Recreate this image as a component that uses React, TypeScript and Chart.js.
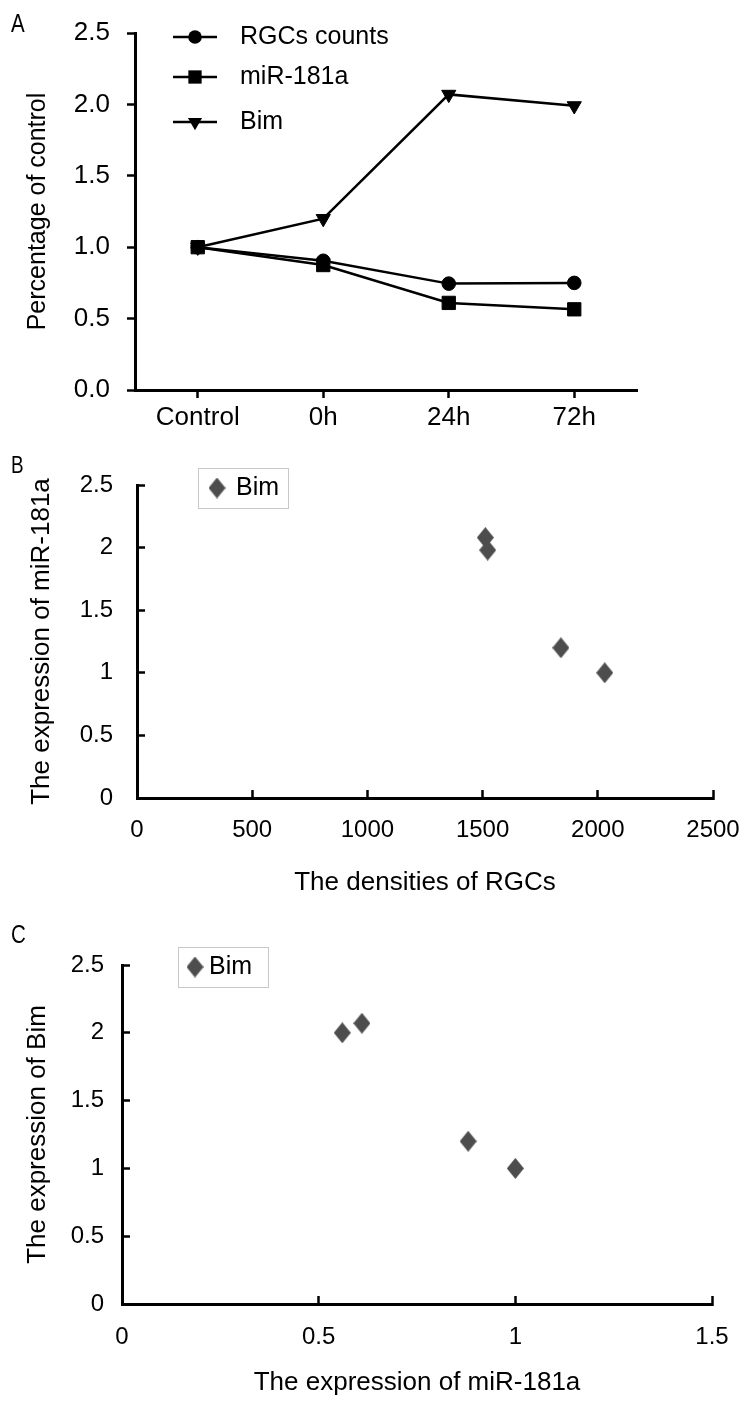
import React, { useEffect, useRef } from "react";
import { Chart, registerables } from "chart.js";

Chart.register(...registerables);

const FONT = "'Liberation Sans', Arial, sans-serif";

// ---------- Panel A data ----------
const timePoints = ["Control", "0h", "24h", "72h"];
const rgcCountsPct = [1.0, 0.905, 0.745, 0.75];
const mir181aPct = [1.0, 0.875, 0.61, 0.565];
const bimPct = [1.0, 1.2, 2.07, 1.99];
const seriesNamesA = ["RGCs counts", "miR-181a", "Bim"];
const yTitleA = "Percentage of control";

// ---------- Panel B data ----------
const rgcDensities = [2030, 1840, 1512, 1522];
const bimVsDensity = [1.0, 1.2, 2.08, 1.98];
const xTitleB = "The densities of RGCs";
const yTitleB = "The expression of miR-181a";

// ---------- Panel C data ----------
const mir181aExpr = [1.0, 0.88, 0.61, 0.56];
const bimVsMir = [1.0, 1.2, 2.07, 2.0];
const xTitleC = "The expression of miR-181a";
const yTitleC = "The expression of Bim";

const scatterName = "Bim";
const DIAMOND_COLOR = "#4d4d4d";

function makeDiamond(w: number, h: number, color: string) {
  const c = document.createElement("canvas");
  c.width = w;
  c.height = h;
  const g = c.getContext("2d")!;
  g.fillStyle = color;
  g.beginPath();
  g.moveTo(w / 2, 0);
  g.lineTo(w, h / 2);
  g.lineTo(w / 2, h);
  g.lineTo(0, h / 2);
  g.closePath();
  g.fill();
  return c;
}

function drawMarker(
  ctx: CanvasRenderingContext2D,
  style: any,
  x: number,
  y: number,
  r: number,
  rotation: number,
  color: string
) {
  ctx.fillStyle = color;
  if (typeof style !== "string") {
    ctx.drawImage(style, x - style.width / 2, y - style.height / 2);
    return;
  }
  ctx.beginPath();
  if (style === "circle") {
    ctx.arc(x, y, r, 0, Math.PI * 2);
  } else if (style === "rect") {
    const s = r * Math.SQRT1_2;
    ctx.rect(x - s, y - s, 2 * s, 2 * s);
  } else if (style === "triangle") {
    const base = (rotation * Math.PI) / 180;
    for (let k = 0; k < 3; k++) {
      const a = base + (k * 2 * Math.PI) / 3;
      const px = x + Math.sin(a) * r;
      const py = y - Math.cos(a) * r;
      if (k === 0) ctx.moveTo(px, py);
      else ctx.lineTo(px, py);
    }
    ctx.closePath();
  }
  ctx.fill();
}

const customLegend = {
  id: "customLegend",
  afterDraw(chart: any, _args: any, opts: any) {
    if (!opts || !opts.rows) return;
    const ctx = chart.ctx as CanvasRenderingContext2D;
    ctx.save();
    if (opts.box) {
      ctx.strokeStyle = opts.box.color;
      ctx.lineWidth = 1;
      ctx.strokeRect(opts.box.x + 0.5, opts.box.y + 0.5, opts.box.w, opts.box.h);
    }
    ctx.font = opts.font;
    ctx.textBaseline = "middle";
    ctx.textAlign = "left";
    chart.data.datasets.forEach((ds: any, i: number) => {
      const y = opts.rows[i];
      if (opts.lineLength) {
        ctx.strokeStyle = ds.borderColor;
        ctx.lineWidth = ds.borderWidth;
        ctx.beginPath();
        ctx.moveTo(opts.lineX, y);
        ctx.lineTo(opts.lineX + opts.lineLength, y);
        ctx.stroke();
      }
      drawMarker(ctx, ds.pointStyle, opts.markerX, y, ds.pointRadius, ds.pointRotation || 0, ds.pointBackgroundColor);
      ctx.fillStyle = "#000";
      ctx.fillText(ds.label, opts.textX, y);
    });
    ctx.restore();
  },
};

function gridOpts(tickLength: number) {
  return {
    display: true,
    drawOnChartArea: false,
    drawTicks: true,
    tickLength,
    color: "#000",
    tickColor: "#000",
    tickWidth: 2.5,
  };
}
const borderOpts = { display: true, color: "#000", width: 3 };
const fmt = (v: any) => String(Math.round(Number(v) * 10) / 10);

function configA(): any {
  const mk = (label: string, data: number[], pointStyle: string, radius: number, rotation = 0) => ({
    label,
    data,
    borderColor: "#000",
    backgroundColor: "#000",
    borderWidth: 2.5,
    pointStyle,
    pointRadius: radius,
    pointHoverRadius: radius,
    pointRotation: rotation,
    pointBackgroundColor: "#000",
    pointBorderColor: "#000",
    pointBorderWidth: 1,
    tension: 0,
  });
  return {
    type: "line",
    data: {
      labels: timePoints,
      datasets: [
        mk(seriesNamesA[0], rgcCountsPct, "circle", 6.8),
        mk(seriesNamesA[1], mir181aPct, "rect", 9.4),
        mk(seriesNamesA[2], bimPct, "triangle", 8.2, 180),
      ],
    },
    options: {
      responsive: false,
      animation: false,
      layout: { padding: { left: 0, right: 107, top: 33, bottom: 0 } },
      plugins: {
        legend: { display: false },
        tooltip: { enabled: false },
        customLegend: {
          rows: [37, 77, 122],
          lineX: 173,
          lineLength: 44,
          markerX: 195,
          textX: 240,
          font: `25px ${FONT}`,
        },
      },
      scales: {
        x: {
          type: "category",
          offset: true,
          grid: { ...gridOpts(8), offset: false },
          border: borderOpts,
          ticks: { color: "#000", font: { size: 26, family: FONT }, padding: 4, maxRotation: 0 },
          afterFit(s: any) {
            s.height = 70;
          },
        },
        y: {
          min: 0,
          max: 2.5,
          grid: gridOpts(8),
          border: borderOpts,
          ticks: {
            stepSize: 0.5,
            color: "#000",
            font: { size: 26, family: FONT, lineHeight: "2px" },
            padding: 17,
            callback: (v: any) => Number(v).toFixed(1),
          },
          title: {
            display: true,
            text: yTitleA,
            color: "#000",
            font: { size: 25, family: FONT },
            padding: { top: 23, bottom: 0 },
          },
          afterFit(s: any) {
            s.width = 135;
          },
        },
      },
    },
    plugins: [customLegend],
  };
}

function scatterConfig(p: {
  xs: number[];
  ys: number[];
  xMax: number;
  xStep: number;
  xTitle: string;
  yTitle: string;
  padding: any;
  yWidth: number;
  xHeight: number;
  yTickPad: number;
  xTickLineHeight: string;
  yTitlePad: number;
  xTitlePad: number;
  legend: any;
}): any {
  const diamond = makeDiamond(17, 21, DIAMOND_COLOR);
  return {
    type: "scatter",
    data: {
      datasets: [
        {
          label: scatterName,
          data: p.xs.map((x, i) => ({ x, y: p.ys[i] })),
          pointStyle: diamond,
          pointRadius: 9,
          pointHoverRadius: 9,
          pointBackgroundColor: DIAMOND_COLOR,
          pointBorderColor: DIAMOND_COLOR,
          showLine: false,
        },
      ],
    },
    options: {
      responsive: false,
      animation: false,
      layout: { padding: p.padding },
      plugins: {
        legend: { display: false },
        tooltip: { enabled: false },
        customLegend: p.legend,
      },
      scales: {
        x: {
          type: "linear",
          min: 0,
          max: p.xMax,
          grid: gridOpts(-8),
          border: borderOpts,
          ticks: {
            stepSize: p.xStep,
            color: "#000",
            font: { size: 24, family: FONT, lineHeight: p.xTickLineHeight },
            padding: 0,
            maxRotation: 0,
            callback: fmt,
          },
          title: {
            display: true,
            text: p.xTitle,
            color: "#000",
            font: { size: 26, family: FONT },
            padding: { top: 0, bottom: p.xTitlePad },
          },
          afterFit(s: any) {
            s.height = p.xHeight;
          },
        },
        y: {
          type: "linear",
          min: 0,
          max: 2.5,
          grid: gridOpts(-8),
          border: borderOpts,
          ticks: {
            stepSize: 0.5,
            color: "#000",
            font: { size: 24, family: FONT, lineHeight: "2px" },
            padding: p.yTickPad,
            callback: fmt,
          },
          title: {
            display: true,
            text: p.yTitle,
            color: "#000",
            font: { size: 26, family: FONT },
            padding: { top: p.yTitlePad, bottom: 0 },
          },
          afterFit(s: any) {
            s.width = p.yWidth;
          },
        },
      },
    },
    plugins: [customLegend],
  };
}

// Panel B canvas spans page y 451..900, panel C canvas spans 900..1404
function configB(): any {
  return scatterConfig({
    xs: rgcDensities,
    ys: bimVsDensity,
    xMax: 2500,
    xStep: 500,
    xTitle: xTitleB,
    yTitle: yTitleB,
    padding: { left: 0, right: 31, top: 34, bottom: 0 },
    yWidth: 137,
    xHeight: 102,
    yTickPad: 32,
    xTickLineHeight: "80px",
    yTitlePad: 26,
    xTitlePad: 2,
    legend: {
      box: { x: 198, y: 17, w: 90, h: 40, color: "#c8c8c8" },
      rows: [37],
      markerX: 217,
      textX: 236,
      font: `25px ${FONT}`,
    },
  });
}

function configC(): any {
  return scatterConfig({
    xs: mir181aExpr,
    ys: bimVsMir,
    xMax: 1.5,
    xStep: 0.5,
    xTitle: xTitleC,
    yTitle: yTitleC,
    padding: { left: 0, right: 32, top: 65, bottom: 0 },
    yWidth: 122,
    xHeight: 100,
    yTickPad: 26,
    xTickLineHeight: "82px",
    yTitlePad: 22,
    xTitlePad: 6,
    legend: {
      box: { x: 178, y: 47, w: 90, h: 40, color: "#c8c8c8" },
      rows: [67],
      markerX: 195,
      textX: 209,
      font: `25px ${FONT}`,
    },
  });
}

function ChartPanel(props: { make: () => any; top: number; height: number }) {
  const ref = useRef<HTMLCanvasElement>(null);
  useEffect(() => {
    const chart = new Chart(ref.current!, props.make());
    return () => chart.destroy();
  }, []);
  return (
    <div style={{ position: "absolute", left: 0, top: props.top, width: 744, height: props.height }}>
      <canvas ref={ref} width={744} height={props.height} style={{ display: "block" }} />
    </div>
  );
}

const letterStyle = (top: number, size: number): React.CSSProperties => ({
  position: "absolute",
  left: 11,
  top,
  fontFamily: FONT,
  fontSize: size,
  lineHeight: 1,
  color: "#000",
  transform: "scaleX(0.82)",
  transformOrigin: "left top",
});

export default function App() {
  return (
    <div style={{ position: "absolute", left: 0, top: 0, width: 744, height: 1404, background: "#fff", overflow: "hidden" }}>
      <ChartPanel make={configA} top={0} height={460} />
      <ChartPanel make={configB} top={451} height={449} />
      <ChartPanel make={configC} top={900} height={504} />
      <div style={letterStyle(11, 25)}>A</div>
      <div style={letterStyle(454, 23)}>B</div>
      <div style={letterStyle(922, 25)}>C</div>
    </div>
  );
}
